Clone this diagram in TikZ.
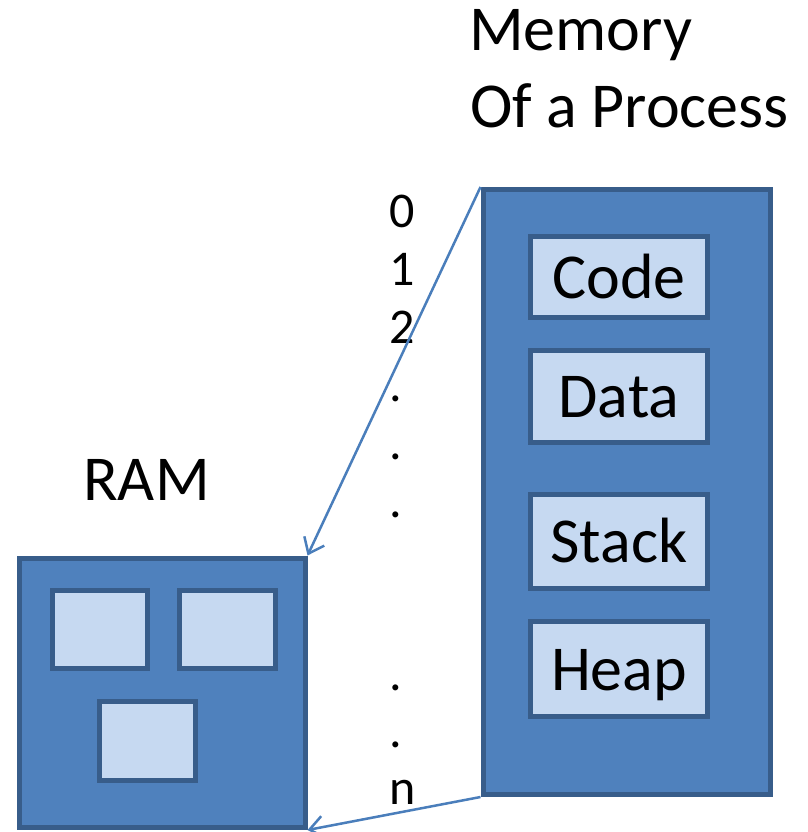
\documentclass[tikz,border=0pt]{standalone}
\usepackage{fontspec}
\setmainfont{Carlito}
\usetikzlibrary{arrows.meta}

\definecolor{shapefill}{HTML}{4F81BD}
\definecolor{shapeline}{HTML}{385D8A}
\definecolor{cellfill}{HTML}{C6D9F1}
\definecolor{linkline}{HTML}{4A7EBB}

\tikzset{
  outerbox/.style={draw=shapeline, fill=shapefill, line width=5pt,
    rectangle, inner sep=0pt},
  cellbox/.style={draw=shapeline, fill=cellfill, line width=5pt,
    rectangle, inner sep=0pt, font=\fontsize{64}{77}\selectfont,
    text height=42pt, text depth=0pt},
  title/.style={font=\fontsize{64}{77}\selectfont, inner sep=0pt, anchor=base west},
  addr/.style={font=\fontsize{50}{60}\selectfont, inner sep=0pt, anchor=base west},
  link/.style={draw=linkline, line width=2.5pt,
    -{Straight Barb[length=14pt,width=22pt,line width=2.5pt]}},
}

\begin{document}
\begin{tikzpicture}[x=1pt, y=-1pt]
  \useasboundingbox (0,0) rectangle (807,832);

  % titles
  \node[title] (mem1) at (469,51) {Memory};
  \node[title] (mem2) at (470,128) {Of a Process};
  \node[title] (ramlabel) at (83,500) {RAM};

  % RAM with three occupied frames
  \node[outerbox, minimum width=285.5pt, minimum height=269.5pt] (ram) at (162.25,692.75) {};
  \node[cellbox, minimum width=95pt, minimum height=78.5pt] (frameA) at (99.5,629.25) {};
  \node[cellbox, minimum width=95.5pt, minimum height=78.5pt] (frameB) at (227.25,629.25) {};
  \node[cellbox, minimum width=95.5pt, minimum height=79.5pt] (frameC) at (147.25,740.75) {};

  % address space of a process
  \node[outerbox, minimum width=287.5pt, minimum height=605pt] (proc) at (626.75,492) {};
  \node[cellbox, minimum width=177pt, minimum height=81pt] (code) at (619,277) {Code};
  \node[cellbox, minimum width=177pt, minimum height=92pt] (data) at (619,396.5) {Data};
  \node[cellbox, minimum width=177pt, minimum height=94.5pt] (stack) at (619,541.25) {Stack};
  \node[cellbox, minimum width=177pt, minimum height=95pt] (heap) at (619,669) {Heap};

  % addresses
  \node[addr] (a0) at (389,227) {0};
  \node[addr] (a1) at (389,285) {1};
  \node[addr] (a2) at (389,343) {2};
  \node[addr] (d1) at (389,401) {.};
  \node[addr] (d2) at (389,459) {.};
  \node[addr] (d3) at (389,517) {.};
  \node[addr] (d4) at (389,690) {.};
  \node[addr] (d5) at (389,747) {.};
  \node[addr] (an) at (389,804) {n};

  % mapping onto RAM
  \draw[link] (proc.north west) -- (ram.north east);
  \draw[link] (proc.south west) -- (ram.south east);
\end{tikzpicture}
\end{document}
